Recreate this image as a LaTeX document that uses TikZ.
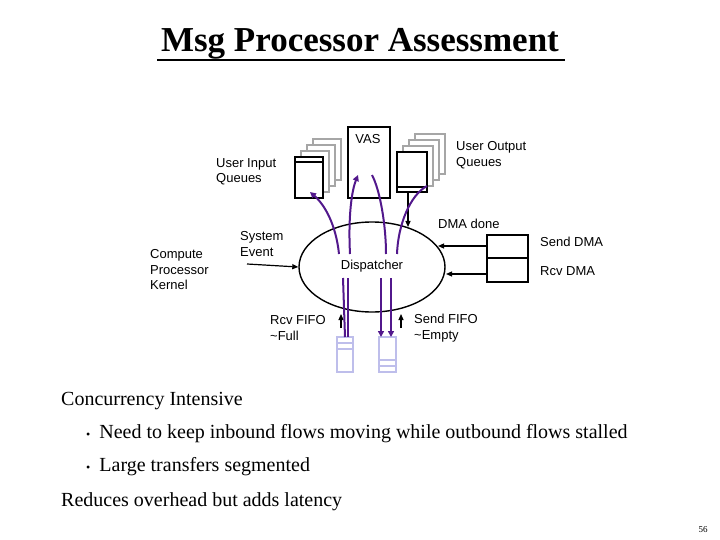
\documentclass[tikz,border=0pt]{standalone}
\usepackage{fontspec}
\setmainfont{Liberation Serif}
\setsansfont{Liberation Sans}
\usetikzlibrary{shapes.geometric,arrows.meta}

\definecolor{flowviolet}{RGB}{82,24,140}
\definecolor{fifoblue}{RGB}{190,190,235}

\tikzset{
  lbl/.style={font=\sffamily\fontsize{13}{15.5}\selectfont, align=left, inner sep=0pt},
  body/.style={font=\fontsize{20}{24}\selectfont, anchor=west, inner sep=0pt},
  page/.style={draw=gray!70, line width=1.2pt, fill=white},
  frontpage/.style={draw=black, line width=1.6pt, fill=white},
  fifo/.style={draw=fifoblue, line width=1.2pt},
  flow/.style={draw=flowviolet, line width=2pt, -{Triangle[length=6pt,width=6pt]}},
  sig/.style={draw=black, line width=1.2pt, -{Triangle[length=6pt,width=5pt]}},
}

\begin{document}
\begin{tikzpicture}[x=1pt,y=-1pt]
    % Canvas
    \useasboundingbox (0,0) rectangle (720,540);
    % Title
    \node (title) at (360,44) {\fontsize{35}{40}\selectfont\bfseries Msg Processor Assessment};
    \draw[line width=1.5pt] (157,60) -- (565,60);

    % Input queue pages
    \foreach \d in {18,12,6} {
        \draw[page] (295+\d,157-\d) rectangle (323+\d,198-\d);
    }
    \draw[frontpage] (295,157) rectangle (323,198);
    \draw[line width=1.4pt] (295,162) -- (323,162);
    \coordinate (inq) at (310,192);

    % Output queue pages
    \foreach \d in {18,12,6} {
        \draw[page] (397+\d,152-\d) rectangle (427+\d,192-\d);
    }
    \draw[frontpage] (397,152) rectangle (427,192);
    \draw[line width=1.4pt] (397,187) -- (427,187);
    \coordinate (outq) at (408,192);

    % VAS
    \draw[frontpage] (348,127) rectangle (390,198);
    \node[lbl] (vas) at (368,139) {VAS};

    % Dispatcher
    \node[draw, line width=1.4pt, ellipse, minimum width=146pt, minimum height=90pt] (disp) at (372,267) {};
    \node[lbl] (disptxt) at (372,266) {Dispatcher};

    % DMA engines
    \draw[frontpage] (487,235) rectangle (528,258);
    \draw[frontpage] (487,258) rectangle (528,282);
    \coordinate (sdma) at (487,246);
    \coordinate (rdma) at (487,274);

    % FIFOs
    \draw[fifo] (337,337) rectangle (353,372) (337,343) -- (353,343) (337,349) -- (353,349);
    \draw[fifo] (379,337) rectangle (396,372) (379,360) -- (396,360) (379,366) -- (396,366);

    % Labels
    \node[lbl, anchor=west] (uin) at (216,172) {User Input\\Queues};
    \node[lbl, anchor=west] (uout) at (456,155) {User Output\\Queues};
    \node[lbl, anchor=west] (cpk) at (150,270) {Compute\\Processor\\Kernel};
    \node[lbl, anchor=west] (sev) at (240,244) {System\\Event};
    \node[lbl, anchor=west] (dmad) at (438,224) {DMA done};
    \node[lbl, anchor=west] (sdmal) at (540,242) {Send DMA};
    \node[lbl, anchor=west] (rdmal) at (540,271) {Rcv DMA};
    \node[lbl, anchor=west] (rfifo) at (270,328) {Rcv FIFO\\\textasciitilde Full};
    \node[lbl, anchor=west] (sfifo) at (414,328) {Send FIFO\\\textasciitilde Empty};

    % Signals
    \draw[sig] (247,264) -- (disp.west);
    \draw[sig] (sdma) -- (438,246);
    \draw[sig] (rdma) -- (446,274);
    \draw[sig] (outq) -- (408,227);
    \draw[sig] (341,328) -- (341,314);
    \draw[sig] (401,328) -- (401,314);

    % Flows
    \draw[flow] (339,254) .. controls (336,225) and (325,205) .. (inq);
    \draw[flow] (350,254) .. controls (348,215) and (352,190) .. (358,175);
    \draw[flow, -] (372,175) .. controls (380,190) and (386,225) .. (386,254);
    \draw[flow, -] (397,254) .. controls (398,225) and (410,195) .. (427,186);
    \draw[flow, -] (343,278) -- (345,337);
    \draw[flow, -] (348,278) -- (348,337);
    \draw[flow] (381,278) -- (381,337);
    \draw[flow] (391,278) -- (391,337);

    % Text body
    \node[body] (b0) at (61,401) {Concurrency Intensive};
    \node[body] (b1) at (86,434) {\fontsize{12}{14}\selectfont\textbullet\hspace{9pt}\fontsize{20}{24}\selectfont Need to keep inbound flows moving while outbound flows stalled};
    \node[body] (b2) at (86,467) {\fontsize{12}{14}\selectfont\textbullet\hspace{9pt}\fontsize{20}{24}\selectfont Large transfers segmented};
    \node[body] (b3) at (61,502) {Reduces overhead but adds latency};
    \node[font=\fontsize{9}{10}\selectfont] (pg) at (703,530) {56};
\end{tikzpicture}
\end{document}
